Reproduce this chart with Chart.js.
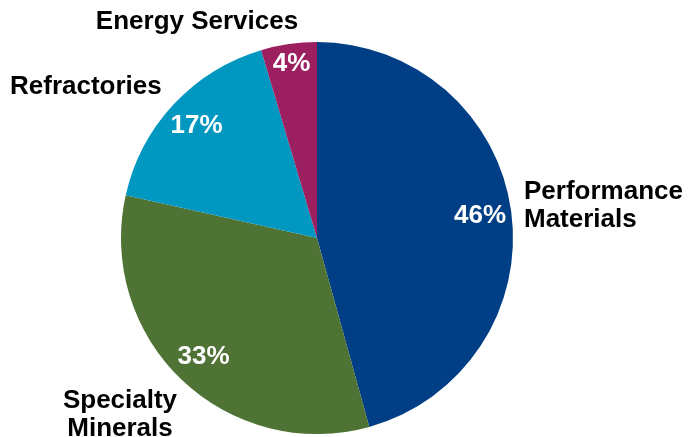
<!DOCTYPE html>
<html>
<head>
<meta charset="utf-8">
<script src="https://cdn.jsdelivr.net/npm/chart.js@4"></script>
<style>
  html, body { margin: 0; padding: 0; background: #fff; }
  #wrap { width: 690px; height: 437px; }
</style>
</head>
<body>
<div id="wrap"><canvas id="myChart" width="690" height="437"></canvas></div>
<script>
const segments = ['Performance Materials', 'Specialty Minerals', 'Refractories', 'Energy Services'];
const shares = [45.7, 32.8, 16.9, 4.6];
const shareLabels = ['46%', '33%', '17%', '4%'];
const colors = ['#003E85', '#4E7335', '#0097C1', '#9C1F60'];

// where the segment names sit (text lines, anchor, alignment)
const nameSpots = [
	{ lines: ['Performance', 'Materials'], x: 524, y: 192, align: 'left' },
	{ lines: ['Specialty', 'Minerals'], x: 120, y: 401, align: 'center' },
	{ lines: ['Refractories'], x: 10, y: 87, align: 'left' },
	{ lines: ['Energy Services'], x: 197, y: 22, align: 'center' },
];
const pctRadius = [0.84, 0.84, 0.84, 0.9];

const labelPlugin = {
	id: 'pieLabels',
	afterDatasetsDraw(chart) {
		const c = chart.ctx;
		const arcs = chart.getDatasetMeta(0).data;
		c.save();
		c.font = 'bold 26px "Liberation Sans", Arial, sans-serif';
		c.textBaseline = 'middle';
		arcs.forEach((arc, i) => {
			const mid = (arc.startAngle + arc.endAngle) / 2;
			const r = arc.outerRadius * pctRadius[i];
			c.fillStyle = '#fff';
			c.textAlign = 'center';
			c.fillText(shareLabels[i], arc.x + Math.cos(mid) * r, arc.y + Math.sin(mid) * r);
		});
		c.fillStyle = '#000';
		nameSpots.forEach((s) => {
			c.textAlign = s.align;
			s.lines.forEach((ln, k) => c.fillText(ln, s.x, s.y + k * 28));
		});
		c.restore();
	},
};

const ctx = document.getElementById('myChart').getContext('2d');
new Chart(ctx, {
	type: 'pie',
	data: {
		labels: segments,
		datasets: [{ data: shares, backgroundColor: colors, borderWidth: 0 }],
	},
	options: {
		responsive: false,
		animation: false,
		layout: { padding: { top: 42, bottom: 3, left: 121, right: 177 } },
		plugins: { legend: { display: false }, tooltip: { enabled: false } },
	},
	plugins: [labelPlugin],
});
</script>
</body>
</html>
